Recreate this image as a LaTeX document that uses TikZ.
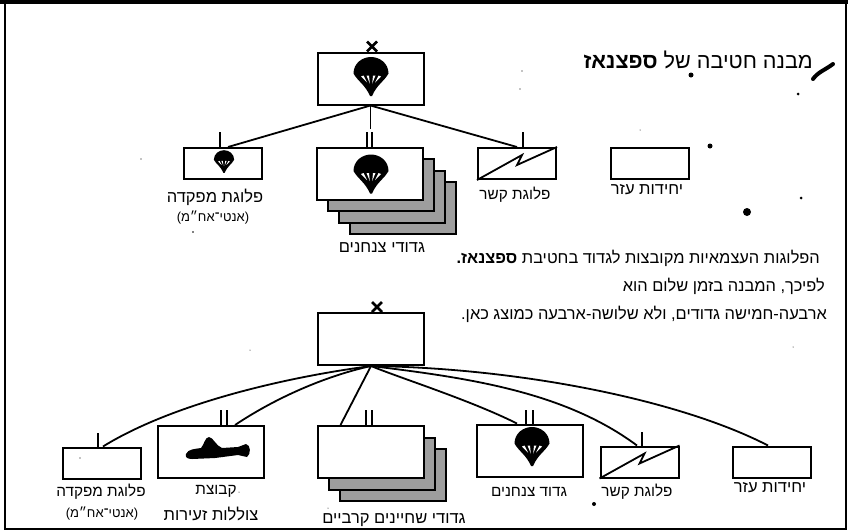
\documentclass[tikz,border=0pt]{standalone}
\usepackage{fontspec}
\newfontfamily\hebfont[Script=Hebrew]{Liberation Sans}
\TeXXeTstate=1
\newcommand{\heb}[1]{\hebfont\beginR #1\endR}
\tikzset{
	big box/.style={draw,line width=2pt,fill=white,inner sep=0pt,minimum width=106pt,minimum height=52pt},
	small box/.style={draw,line width=2pt,fill=white,inner sep=0pt,minimum width=78pt,minimum height=31pt},
	layer box/.style={big box,fill=black!38},
	tick/.style={line width=1.7pt},
	link/.style={line width=1.8pt},
	cross/.style={line width=2.8pt},
	label/.style={inner sep=0pt,font=\fontsize{15.3}{15}\selectfont},
	wide label/.style={inner sep=0pt,font=\fontsize{16.5}{16}\selectfont},
	sub label/.style={inner sep=0pt,font=\fontsize{13}{13}\selectfont},
	body/.style={inner sep=0pt,anchor=east,font=\fontsize{16.4}{16}\selectfont},
	chute/.pic={
		\fill (-17.5,-3) .. controls (-17.5,-13) and (-9,-19.5) .. (0,-19.5) .. controls (9,-19.5) and (17.5,-13) .. (17.5,-3)
			.. controls (13,5) and (6,8) .. (1,19.5) -- (-1,19.5) .. controls (-6,8) and (-13,5) .. (-17.5,-3) -- cycle;
		\fill[white] (-10,0) -- (-7.5,-1) -- (-4,6) -- cycle (-4.5,-1) -- (-2,-1) -- (-1.2,7) -- cycle
			(2,-1) -- (4.5,-1) -- (1.2,7) -- cycle (7.5,-1) -- (10,0) -- (4,6) -- cycle;
	},
}
\begin{document}
\begin{tikzpicture}[x=1pt,y=-1pt]
	\useasboundingbox (0,0) rectangle (848,531);
	\draw[line width=1.6pt] (5,3) rectangle (846,529);
	\draw[line width=3.5pt] (0,2) -- (848,2);

	% upper brigade
	\node[big box] (bdeA) at (370.5,78.5) {};
	\node[small box] (hqA) at (223,163.5) {};
	\node[layer box] (layerAc) at (403,208) {};
	\node[layer box] (layerAb) at (391.5,196.5) {};
	\node[layer box] (layerAa) at (381,185) {};
	\node[big box] (bnA) at (370,174) {};
	\node[small box] (sigA) at (517,163.5) {};
	\node[small box] (auxA) at (649.5,163.5) {};

	\draw[cross] ([shift={(-3.5,0)}]bdeA.north) -- ++(10,-10) ([shift={(-3.5,-10)}]bdeA.north) -- ++(10,10);
	\draw[link] (bdeA.south) -- ([xshift=5pt]hqA.north);
	\draw[link] (bdeA.south) -- ++(0,23);
	\draw[link] (bdeA.south) -- ([xshift=0pt]sigA.north);
	\draw[tick] ([xshift=-3pt]hqA.north) -- ++(0,-15);
	\draw[tick] ([xshift=-3pt]bnA.north) -- ++(0,-15);
	\draw[tick] ([xshift=2pt]bnA.north) -- ++(0,-15);
	\draw[tick] ([xshift=6pt]sigA.north) -- ++(0,-15);
	\draw[link] (sigA.south west) -- ++(45,-25) -- ++(-5,10) -- (sigA.north east);

	\pic at ([shift={(0.5,-2)}]bdeA.center) {chute};
	\pic at ([xshift=1pt]bnA.center) {chute};
	\pic[scale=.58] at ([shift={(1,-2)}]hqA.center) {chute};

	\node[wide label] (hqAtxt) at (215,197) {\heb{פלוגת מפקדה}};
	\node[sub label] (hqAsub) at (213,218) {\heb{(אנטי־אח״מ)}};
	\node[wide label] (bnAtxt) at (382,248) {\heb{גדודי צנחנים}};
	\node[label] (sigAtxt) at (515,195) {\heb{פלוגת קשר}};
	\node[wide label] (auxAtxt) at (647,190) {\heb{יחידות עזר}};

	\node[inner sep=0pt,anchor=east,font=\fontsize{21.6}{22}\selectfont] (title) at (813,60) {\heb{מבנה חטיבה של {\bfseries ספצנאז}}};
	\node[body] (bodyA) at (820,258) {\heb{הפלוגות העצמאיות מקובצות לגדוד בחטיבת {\bfseries ספצנאז.}}};
	\node[body] (bodyB) at (825,286) {\heb{לפיכך, המבנה בזמן שלום הוא}};
	\node[body] (bodyC) at (827,314) {\heb{ארבעה-חמישה גדודים, ולא שלושה-ארבעה כמוצג כאן.}};

	% lower brigade
	\node[big box] (bdeB) at (371,339) {};
	\node[small box] (hqB) at (101.5,463) {};
	\node[big box] (subB) at (210.5,452) {};
	\node[layer box] (layerBb) at (393,475) {};
	\node[layer box] (layerBa) at (381.5,463.5) {};
	\node[big box] (swimB) at (370.5,452) {};
	\node[big box] (bnB) at (530,450.5) {};
	\node[small box] (sigB) at (639.5,462) {};
	\node[small box] (auxB) at (771.5,462) {};

	\draw[cross] ([shift={(1,0)}]bdeB.north) -- ++(10,-10) ([shift={(1,-10)}]bdeB.north) -- ++(10,10);
	\draw[link] (bdeB.south) -- ([xshift=-30pt]swimB.north);
	\draw[link] (bdeB.south) .. controls (280,378) and (170,405) .. ([xshift=1.5pt]hqB.north);
	\draw[link] (bdeB.south) .. controls (330,375) and (280,395) .. ([xshift=24.5pt]subB.north);
	\draw[link] (bdeB.south) .. controls (400,378) and (470,400) .. ([xshift=-13pt]bnB.north);
	\draw[link] (bdeB.south) .. controls (470,378) and (565,392) .. ([xshift=-2.5pt]sigB.north);
	\draw[link] (bdeB.south) .. controls (520,368) and (680,400) .. ([xshift=-3.5pt]auxB.north);
	\draw[tick] ([xshift=-3.5pt]hqB.north) -- ++(0,-14);
	\draw[tick] ([xshift=10.5pt]subB.north) -- ++(0,-15);
	\draw[tick] ([xshift=16.5pt]subB.north) -- ++(0,-15);
	\draw[tick] ([xshift=-4.5pt]swimB.north) -- ++(0,-15);
	\draw[tick] ([xshift=1.5pt]swimB.north) -- ++(0,-15);
	\draw[tick] ([xshift=-4pt]bnB.north) -- ++(0,-14);
	\draw[tick] ([xshift=3pt]bnB.north) -- ++(0,-14);
	\draw[tick] ([xshift=2.5pt]sigB.north) -- ++(0,-14);
	\draw[link] (sigB.south west) -- ++(45,-25) -- ++(-5,10) -- (sigB.north east);

	\pic at ([shift={(2,-4)}]bnB.center) {chute};
	\fill (186,454) .. controls (188,449) and (195,449) .. (201,448) .. controls (204,445) and (205,437) .. (209,437)
		.. controls (213,437) and (216,446) .. (222,448) -- (238,447) -- (246,444) .. controls (251,445) and (251,454) .. (247,457)
		-- (238,455) -- (215,458) -- (192,459) .. controls (187,459) and (185,457) .. (186,454) -- cycle;

	\node[label] (hqBtxt) at (101,492) {\heb{פלוגת מפקדה}};
	\node[sub label] (hqBsub) at (102,514) {\heb{(אנטי־אח״מ)}};
	\node[label] (subBtxta) at (216,491) {\heb{קבוצת}};
	\node[wide label] (subBtxtb) at (211,514) {\heb{צוללות זעירות}};
	\node[wide label] (swimBtxt) at (394,520) {\heb{גדודי שחיינים קרביים}};
	\node[label] (bnBtxt) at (529,492) {\heb{גדוד צנחנים}};
	\node[label] (sigBtxt) at (637,492) {\heb{פלוגת קשר}};
	\node[wide label] (auxBtxt) at (770,488) {\heb{יחידות עזר}};

	% scan marks
	\draw[line width=4pt,line cap=round] (813,79) .. controls (818,72) and (825,70) .. (833,64);
	\foreach \x/\y/\r in {691/75/2.5,798/94/1.5,710/146/2.5,801/198/1.5,747/212/4,594/504/2,193/232/.8,522/71/.6,520/89/.6,640/130/.5,80/458/.6,141/159/.6,250/350/.5,239/492/.5,328/508/.5,793/347/.5}
		\fill (\x,\y) circle (\r pt);
\end{tikzpicture}
\end{document}
